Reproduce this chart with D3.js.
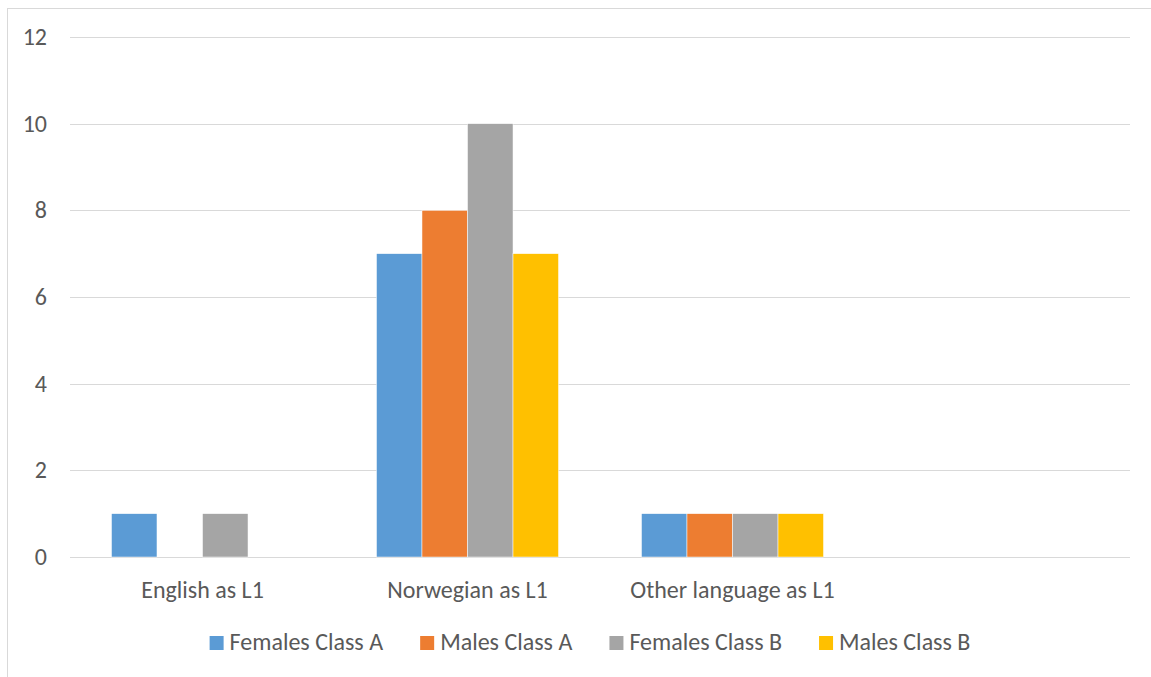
<!DOCTYPE html>
<meta charset="utf-8">
<style>
    body {
        margin: 0;
        background: #fff;
        font-family: Carlito, Calibri, "Open Sans", "Noto Sans", sans-serif;
    }
    .grid line {
        stroke: #d9d9d9;
        stroke-width: 1;
        shape-rendering: crispEdges;
    }
    text {
        fill: #595959;
        font-size: 24px;
    }
</style>
<body>
<script src="https://d3js.org/d3.v7.min.js"></script>
<script>

    // chart data
    var categories = ["English as L1", "Norwegian as L1", "Other language as L1", ""];
    var seriesNames = ["Females Class A", "Males Class A", "Females Class B", "Males Class B"];
    var seriesColors = ["#5b9bd5", "#ed7d31", "#a5a5a5", "#ffc000"];
    var femalesA = [1, 7, 1, 0];
    var malesA = [0, 8, 1, 0];
    var femalesB = [1, 10, 1, 0];
    var malesB = [0, 7, 1, 0];
    var yTicks = [0, 2, 4, 6, 8, 10, 12];

    var seriesValues = [femalesA, malesA, femalesB, malesB];

    var W = 1151, H = 677;
    var margin = { top: 37, right: 21, bottom: 120, left: 70 },
        width = 1130 - margin.left,
        height = 557 - margin.top;

    var svg = d3.select("body").append("svg")
        .attr("width", W)
        .attr("height", H);

    // outer chart border (runs off the right and bottom edge)
    svg.append("rect")
        .attr("x", 7.5).attr("y", 8.5)
        .attr("width", W + 20).attr("height", H + 20)
        .attr("fill", "none")
        .attr("stroke", "#d9d9d9");

    var g = svg.append("g")
        .attr("transform", "translate(" + margin.left + "," + margin.top + ")");

    var x = d3.scaleBand()
        .domain(categories.map(function (d, i) { return i; }))
        .range([0, width])
        .paddingInner(0.313)
        .paddingOuter(0.1565);

    var x1 = d3.scaleBand()
        .domain(seriesNames)
        .range([0, x.bandwidth()]);

    var y = d3.scaleLinear()
        .domain([0, 12])
        .range([height, 0]);

    // gridlines
    g.append("g")
        .attr("class", "grid")
        .selectAll("line")
        .data(yTicks)
        .enter().append("line")
        .attr("x1", 0)
        .attr("x2", width)
        .attr("y1", function (d) { return Math.round(y(d)) + 0.5; })
        .attr("y2", function (d) { return Math.round(y(d)) + 0.5; });

    // y tick labels
    g.append("g")
        .selectAll("text")
        .data(yTicks)
        .enter().append("text")
        .attr("x", -23)
        .attr("y", function (d) { return y(d) + 8; })
        .attr("text-anchor", "end")
        .text(function (d) { return d; });

    // bars
    var groups = g.selectAll(".series")
        .data(seriesNames)
        .enter().append("g")
        .attr("class", "series")
        .attr("fill", function (d, i) { return seriesColors[i]; });

    groups.selectAll("rect")
        .data(function (s, si) {
            return seriesValues[si].map(function (v, ci) { return { s: s, c: ci, v: v }; });
        })
        .enter().append("rect")
        .attr("x", function (d) { return x(d.c) + x1(d.s); })
        .attr("width", x1.bandwidth())
        .attr("y", function (d) { return y(d.v); })
        .attr("height", function (d) { return height - y(d.v); })
        .attr("stroke", "#fff")
        .attr("stroke-width", 0.5);

    // category labels
    g.append("g")
        .selectAll("text")
        .data(categories)
        .enter().append("text")
        .attr("x", function (d, i) { return x(i) + x.bandwidth() / 2; })
        .attr("y", height + 41)
        .attr("text-anchor", "middle")
        .text(function (d) { return d; });

    // legend
    var legend = svg.append("g");
    var items = legend.selectAll("g")
        .data(seriesNames)
        .enter().append("g");
    items.append("rect")
        .attr("width", 14).attr("height", 14)
        .attr("y", -14)
        .attr("fill", function (d, i) { return seriesColors[i]; });
    items.append("text")
        .attr("x", 20)
        .text(function (d) { return d; });

    var pos = 0, offsets = [];
    items.each(function () {
        offsets.push(pos);
        pos += this.getBBox().width + 37;
    });
    var total = pos - 37;
    items.attr("transform", function (d, i) { return "translate(" + offsets[i] + ",0)"; });
    legend.attr("transform", "translate(" + (590 - total / 2) + ",650)");

</script>
</body>
